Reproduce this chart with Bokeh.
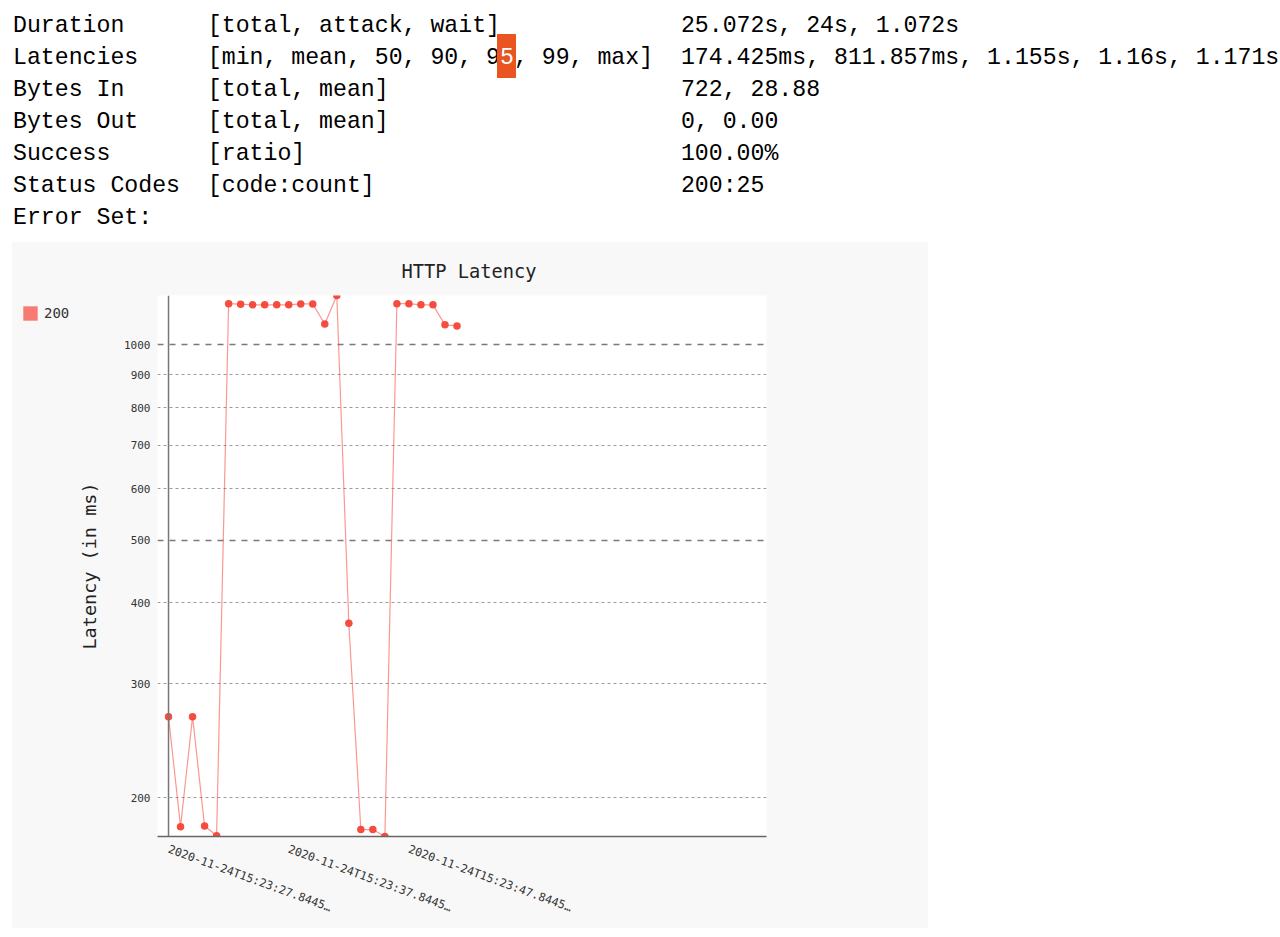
from bokeh.plotting import figure
from bokeh.models import (Range1d, FixedTicker, Span, Grid, Legend, LegendItem, Div,
                          ColumnDataSource, PrintfTickFormatter)
from bokeh.layouts import column, row
from bokeh.embed import file_html
from bokeh.resources import INLINE
import html as _html

# ---------------- data ----------------
stat_names = ["Duration", "Latencies", "Bytes In", "Bytes Out", "Success", "Status Codes", "Error Set:"]
stat_fields = ["[total, attack, wait]", "[min, mean, 50, 90, 95, 99, max]", "[total, mean]",
               "[total, mean]", "[ratio]", "[code:count]", ""]
stat_values = ["25.072s, 24s, 1.072s", "174.425ms, 811.857ms, 1.155s, 1.16s, 1.171s", "722, 28.88",
               "0, 0.00", "100.00%", "200:25", ""]

# seconds since first request (2020-11-24T15:23:27.8445)
t_sec = [0, 1, 2, 3, 4, 5, 6, 7, 8, 9, 10, 11, 12, 13, 14, 15, 16, 17, 18, 19, 20, 21, 22, 23, 24]
latency_ms = [267, 180.5, 267, 181, 174.9, 1158, 1156, 1153, 1153, 1153, 1153, 1157, 1157, 1077,
              1192, 372, 178.8, 178.8, 174.425, 1158, 1158, 1153, 1153, 1074, 1070]
series_name = "200"

x_tick_pos = [0, 10, 20]
x_tick_labels = ["2020-11-24T15:23:27.8445\u2026", "2020-11-24T15:23:37.8445\u2026",
                 "2020-11-24T15:23:47.8445\u2026"]
y_ticks = [200, 300, 400, 500, 600, 700, 800, 900, 1000]
y_major_grid = [500, 1000]
y_minor_grid = [200, 300, 400, 600, 700, 800, 900]

# ---------------- top text block ----------------
lines = []
for n, f, v in zip(stat_names, stat_fields, stat_values):
    if f:
        lines.append(n.ljust(14) + f.ljust(34) + v)
    else:
        lines.append(n)

hl_line, hl_col = 1, 35  # cursor highlight on the "5" of "95"
out_lines = []
for i, ln in enumerate(lines):
    if i == hl_line:
        a, c, b = ln[:hl_col], ln[hl_col], ln[hl_col + 1:]
        out_lines.append(
            _html.escape(a)
            + '<span style="position:relative;">'
            + '<span style="position:absolute;left:-3px;top:-11px;width:19px;height:44px;background:#E95420;"></span>'
            + '<span style="position:relative;color:#ffffff;">' + _html.escape(c) + '</span></span>'
            + _html.escape(b))
    else:
        out_lines.append(_html.escape(ln))

pre_html = ('<pre style="margin:0;padding:10px 0 0 13px;font-family:\'Liberation Mono\',monospace;'
            'font-size:23.2px;line-height:32px;color:#000;white-space:pre;">' + "\n".join(out_lines) + '</pre>')
div = Div(text=pre_html, width=1280, height=242, margin=(0, 0, 0, 0))

src = ColumnDataSource(dict(t=t_sec, lat=latency_ms))

# ---------------- legend strip (left part of the chart panel) ----------------
leg_fig = figure(width=60, height=686, x_range=Range1d(0, 1), y_range=Range1d(0, 1),
                 output_backend="svg", toolbar_location=None,
                 min_border_left=0, min_border_right=0, min_border_bottom=0, min_border_top=53,
                 background_fill_color="#f8f8f8", border_fill_color="#f8f8f8",
                 outline_line_color=None)
leg_fig.margin = (0, 0, 0, 0)
leg_fig.axis.visible = False
leg_fig.grid.visible = False
r_leg = leg_fig.quad(left="t", right="t", top="lat", bottom="lat", source=src,
                     fill_color="#f77b72", line_color=None, visible=False)
legend = Legend(items=[LegendItem(label=series_name, renderers=[r_leg])],
                location="top_left", glyph_width=18, glyph_height=18,
                label_text_font="DejaVu Sans Mono", label_text_font_size="14px",
                label_text_color="#333333",
                padding=0, margin=9, border_line_color=None, background_fill_alpha=0,
                label_standoff=5)
leg_fig.add_layout(legend)

# ---------------- chart ----------------
p = figure(width=856, height=686, y_axis_type="log",
           x_range=Range1d(-0.917, 49.75),
           y_range=Range1d(min(latency_ms), max(latency_ms)),
           output_backend="svg", toolbar_location=None,
           min_border_left=85, min_border_right=162, min_border_top=52, min_border_bottom=92,
           background_fill_color="#ffffff", border_fill_color="#f8f8f8",
           outline_line_color=None, title="HTTP Latency")
p.margin = (0, 0, 0, 0)

p.title.align = "left"
p.title.offset = 244
p.title.standoff = 27
p.title.text_font = "DejaVu Sans Mono"
p.title.text_font_size = "18.7px"
p.title.text_font_style = "normal"
p.title.text_color = "#222222"

# grids
p.xgrid.visible = False
p.ygrid[0].ticker = FixedTicker(ticks=y_minor_grid)
p.ygrid[0].grid_line_color = "#9a9a9a"
p.ygrid[0].grid_line_dash = "3 3"
p.ygrid[0].grid_line_width = 1
major_grid = Grid(dimension=1, ticker=FixedTicker(ticks=y_major_grid),
                  grid_line_color="#7a7a7a", grid_line_dash="6 6", grid_line_width=1.5)
p.add_layout(major_grid)

# y axis
ya = p.yaxis[0]
ya.ticker = FixedTicker(ticks=y_ticks)
ya.formatter = PrintfTickFormatter(format="%d")
ya.axis_line_color = None
ya.major_tick_line_color = None
ya.minor_tick_line_color = None
ya.major_tick_out = 0
ya.major_tick_in = 0
ya.minor_tick_out = 0
ya.major_label_standoff = 7
ya.major_label_text_font = "DejaVu Sans Mono"
ya.major_label_text_font_size = "11px"
ya.major_label_text_color = "#333333"
ya.axis_label = "Latency (in ms)"
ya.axis_label_text_font = "DejaVu Sans Mono"
ya.axis_label_text_font_size = "18.5px"
ya.axis_label_text_font_style = "normal"
ya.axis_label_text_color = "#222222"
ya.axis_label_standoff = 21

# x axis
xa = p.xaxis[0]
xa.ticker = FixedTicker(ticks=x_tick_pos)
xa.major_label_overrides = dict(zip(x_tick_pos, x_tick_labels))
xa.major_label_orientation = -0.35
xa.major_label_text_font = "DejaVu Sans Mono"
xa.major_label_text_font_size = "11.5px"
xa.major_label_text_color = "#333333"
xa.axis_line_color = "#666666"
xa.axis_line_width = 1.5
xa.major_tick_line_color = None
xa.minor_tick_line_color = None
xa.major_tick_out = 0
xa.major_tick_in = 0
xa.minor_tick_out = 0
xa.major_label_standoff = 12

# vertical axis line at first timestamp
p.add_layout(Span(location=t_sec[0], dimension="height", line_color="#777777", line_width=1.5))

# series
p.line("t", "lat", source=src, line_color="#F44336", line_alpha=0.55, line_width=1.2)
p.scatter("t", "lat", source=src, size=7.5, fill_color="#F44336", line_color=None, fill_alpha=0.95)

chart_row = row(leg_fig, p, spacing=0, margin=(0, 0, 0, 12),
                styles={"background-color": "#f8f8f8"})
layout = column(div, chart_row, spacing=0)
open("out.html", "w").write(file_html(layout, INLINE))
